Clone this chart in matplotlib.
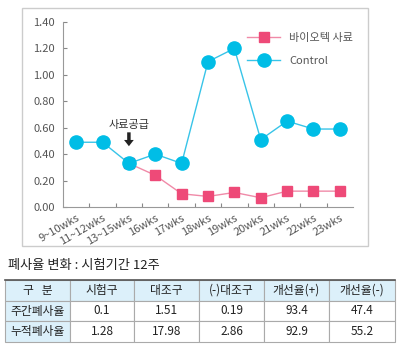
"""Mortality chart: bio feed vs control, plus summary table."""

import matplotlib
matplotlib.use('Agg')
import matplotlib.pyplot as plt
from matplotlib.patches import Rectangle

plt.rcParams['font.family'] = ['Noto Sans CJK KR', 'DejaVu Sans']

# data
weeks = ['9~10wks', '11~12wks', '13~15wks', '16wks', '17wks', '18wks',
         '19wks', '20wks', '21wks', '22wks', '23wks']
control = [0.49, 0.49, 0.33, 0.40, 0.33, 1.10, 1.20, 0.51, 0.65, 0.59, 0.59]
bio_idx = [2, 3, 4, 5, 6, 7, 8, 9, 10]
bio = [0.33, 0.24, 0.10, 0.08, 0.11, 0.07, 0.12, 0.12, 0.12]
yticks = [0.0, 0.2, 0.4, 0.6, 0.8, 1.0, 1.2, 1.4]

table_title = '폐사율 변화 : 시험기간 12주'
table_header = ['구   분', '시험구', '대조구', '(-)대조구', '개선율(+)', '개선율(-)']
table_rows = [
  ['주간폐사율', '0.1', '1.51', '0.19', '93.4', '47.4'],
  ['누적폐사율', '1.28', '17.98', '2.86', '92.9', '55.2'],
]

W, H = 400, 354
fig = plt.figure(figsize=(W/100, H/100), dpi=100)

# outer frame around chart
fig.patches.append(Rectangle((22/W, 1-246/H), 346/W, 238/H, transform=fig.transFigure,
                             fill=False, ec='#cccccc', lw=1.0))

ax = fig.add_axes([63/W, 1-207/H, 290/W, 185/H])
pink, cyan = '#ee4a78', '#00bde6'
ax.plot(bio_idx, bio, color='#f08aa8', lw=1.0, marker='s', ms=6.5, mfc=pink, mec=pink,
        label='바이오텍 사료', zorder=2)
ax.plot(range(len(weeks)), control, color='#38c4e8', lw=1.0, marker='o', ms=9.5,
        mfc=cyan, mec=cyan, label='Control', zorder=3)

ax.set_xlim(-0.5, len(weeks)-0.5)
ax.set_ylim(0, 1.4)
ax.set_yticks(yticks)
ax.set_yticklabels([f'{v:.2f}' for v in yticks])
ax.set_xticks([i+0.5 for i in range(len(weeks)-1)], minor=False)
ax.set_xticklabels([])
ax.set_xticks(range(len(weeks)), minor=True)
ax.set_xticklabels(weeks, minor=True, rotation=30, ha='right', rotation_mode='anchor')
ax.tick_params(axis='x', which='major', direction='in', length=3, color='#888888')
ax.tick_params(axis='x', which='minor', length=0, labelsize=8, colors='#555555', pad=4)
ax.tick_params(axis='y', direction='in', length=3, color='#888888', labelsize=8,
               labelcolor='#555555', pad=6)
for s in ['top', 'right']:
  ax.spines[s].set_visible(False)
for s in ['left', 'bottom']:
  ax.spines[s].set_color('#999999')
  ax.spines[s].set_linewidth(0.8)

# feed start marker
ax.annotate('', xy=(2, 0.46), xytext=(2, 0.565),
            arrowprops=dict(width=2.5, headwidth=7, headlength=4.5, color='#222222', lw=0))
ax.text(2, 0.58, '사료공급', ha='center', va='bottom', fontsize=8, color='#333333')

leg = ax.legend(loc='upper right', bbox_to_anchor=(1.035, 0.995), frameon=False, fontsize=8,
                handlelength=3, labelspacing=1.2, handletextpad=0.8)
for t in leg.get_texts():
  t.set_color('#555555')

# table
fig.text(8/W, 1-265/H, table_title, fontsize=9.5, va='center', ha='left', color='#222222')
col_x = [5, 70, 134, 199, 264, 329, 395]
row_y = [280, 301, 321, 342]
blue = '#dcf0fa'
cells = [table_header] + table_rows
for r, row in enumerate(cells):
  for c, val in enumerate(row):
    x0, x1 = col_x[c], col_x[c+1]
    y0, y1 = row_y[r], row_y[r+1]
    bg = blue if (r == 0 or c == 0) else 'white'
    fig.patches.append(Rectangle((x0/W, 1-y1/H), (x1-x0)/W, (y1-y0)/H,
                                 transform=fig.transFigure, fc=bg, ec='#aaaaaa', lw=0.8))
    fig.text((x0+x1)/2/W, 1-(y0+y1)/2/H, val, ha='center', va='center',
             fontsize=8.5, color='#222222')
fig.lines.append(plt.Line2D([5/W, 395/W], [1-280/H, 1-280/H], transform=fig.transFigure,
                            color='#555555', lw=1.2))

fig.savefig('out.png', dpi=100)
